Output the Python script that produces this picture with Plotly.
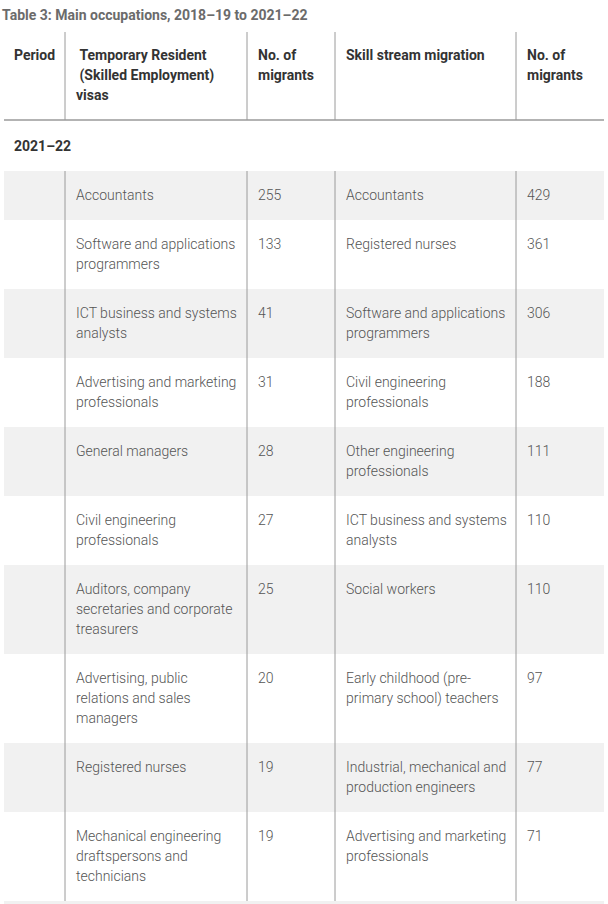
import plotly.graph_objects as go

# ---- table content -------------------------------------------------------
title = "Table 3: Main occupations, 2018–19 to 2021–22"
headers = ["Period",
           "\u00a0Temporary Resident<br>\u00a0(Skilled Employment)<br>visas",
           "No. of<br>migrants",
           "Skill stream migration",
           "No. of<br>migrants"]
periods = ["2021–22", "2020–21"]
temp_occupations = [
    "Accountants",
    "Software and applications<br>programmers",
    "ICT business and systems<br>analysts",
    "Advertising and marketing<br>professionals",
    "General managers",
    "Civil engineering<br>professionals",
    "Auditors, company<br>secretaries and corporate<br>treasurers",
    "Advertising, public<br>relations and sales<br>managers",
    "Registered nurses",
    "Mechanical engineering<br>draftspersons and<br>technicians",
]
temp_migrants = [255, 133, 41, 31, 28, 27, 25, 20, 19, 19]
skill_occupations = [
    "Accountants",
    "Registered nurses",
    "Software and applications<br>programmers",
    "Civil engineering<br>professionals",
    "Other engineering<br>professionals",
    "ICT business and systems<br>analysts",
    "Social workers",
    "Early childhood (pre-<br>primary school) teachers",
    "Industrial, mechanical and<br>production engineers",
    "Advertising and marketing<br>professionals",
]
skill_migrants = [429, 361, 306, 188, 111, 110, 110, 97, 77, 71]

# ---- geometry / styling --------------------------------------------------
W, H = 608, 904
col_edges = [4, 65, 247, 335, 516, 604]
pad_x = [8, 9, 9, 9, 9]          # plotly adds ~2px of its own padding
header_top, header_bot = 32, 120
section_h = 51
line_h = 20
row_pad = 29
stripe = "#f1f1f1"
rule = "#9a9a9a"

f_title = dict(family="Roboto", size=14, color="#6b6b6b", weight="bold")
f_head = dict(family="Roboto", size=14, color="#333333", weight="bold")
f_body = dict(family="Roboto", size=14, color="#555555", weight=300)

shapes, annotations = [], []


def put_text(col, y_first, text, font):
    # one annotation per wrapped line so the line spacing matches the page
    x = col_edges[col] + pad_x[col]
    for i, line in enumerate(str(text).split("<br>")):
        annotations.append(dict(
            x=x, y=y_first + i * line_h, text=line, xref="x", yref="y",
            xanchor="left", yanchor="middle", showarrow=False, font=font))


def vlines(y0, y1):
    for xe in col_edges[1:-1]:
        shapes.append(dict(type="line", xref="x", yref="y", x0=xe, x1=xe,
                           y0=y0, y1=y1, line=dict(color=rule, width=1)))


# title
annotations.append(dict(x=0, y=15, text=title, xref="x", yref="y",
                        xanchor="left", yanchor="middle", showarrow=False,
                        font=f_title))

# header
for c, h in enumerate(headers):
    put_text(c, header_top + 23, h, f_head)
vlines(header_top, header_bot)
shapes.append(dict(type="line", xref="x", yref="y", x0=col_edges[0],
                   x1=col_edges[-1], y0=header_bot, y1=header_bot,
                   line=dict(color=rule, width=1.5)))

# body
y = header_bot
stripe_on = False
put_text(0, y + 26, periods[0], f_head)
y += section_h
for k in range(len(temp_occupations)):
    stripe_on = not stripe_on
    cells = ["", temp_occupations[k], temp_migrants[k],
             skill_occupations[k], skill_migrants[k]]
    n = max(len(str(c).split("<br>")) for c in cells)
    h = row_pad + line_h * n
    if stripe_on:
        shapes.append(dict(type="rect", xref="x", yref="y", layer="below",
                           x0=col_edges[0], x1=col_edges[-1], y0=y, y1=y + h,
                           fillcolor=stripe, line=dict(width=0)))
    vlines(y, y + h)
    for c, val in enumerate(cells):
        if val != "":
            put_text(c, y + 24, val, f_body)
    y += h

# next period starts (cut off by the page)
shapes.append(dict(type="rect", xref="x", yref="y", layer="below",
                   x0=col_edges[0], x1=col_edges[-1], y0=y, y1=y + section_h,
                   fillcolor=stripe, line=dict(width=0)))
put_text(0, y + 26, periods[1], f_head)

fig = go.Figure(go.Scatter(x=[], y=[]))
fig.update_layout(
    width=W, height=H,
    margin=dict(l=0, r=0, t=0, b=0),
    paper_bgcolor="white", plot_bgcolor="white",
    xaxis=dict(range=[0, W], visible=False, fixedrange=True),
    yaxis=dict(range=[H, 0], visible=False, fixedrange=True),
    shapes=shapes, annotations=annotations,
    showlegend=False,
)
fig.write_html("out.html", config={"displayModeBar": False},
               post_script="document.body.style.margin='0';")
